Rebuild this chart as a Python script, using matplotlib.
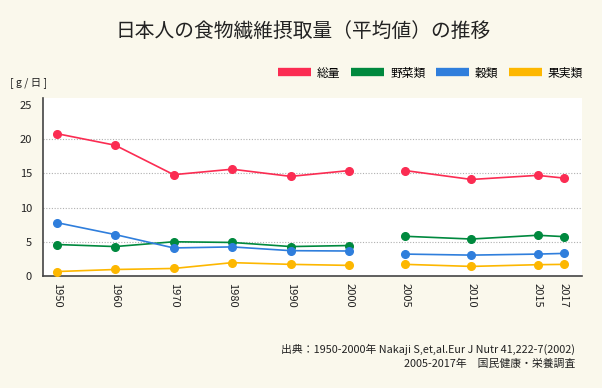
import numpy as np
import matplotlib
matplotlib.use("Agg")
import matplotlib.pyplot as plt
from matplotlib.lines import Line2D

plt.rcParams['font.family'] = ['Noto Sans CJK JP', 'DejaVu Sans']

# ---- data ----
years = [1950, 1960, 1970, 1980, 1990, 2000, 2005, 2010, 2015, 2017]
year_labels = ["1950", "1960", "1970", "1980", "1990", "2000", "2005", "2010", "2015", "2017"]
total = [20.8, 19.1, 14.8, 15.6, 14.55, 15.4, 15.4, 14.1, 14.7, 14.3]
vegetables = [4.6, 4.3, 5.0, 4.9, 4.3, 4.45, 5.8, 5.4, 5.95, 5.75]
grains = [7.8, 6.05, 4.1, 4.25, 3.7, 3.65, 3.2, 3.05, 3.2, 3.3]
fruits = [0.65, 0.95, 1.1, 1.95, 1.7, 1.55, 1.7, 1.4, 1.65, 1.7]
series_names = ["総量", "野菜類", "穀類", "果実類"]
yticks = [0, 5, 10, 15, 20, 25]

title = "日本人の食物繊維摂取量（平均値）の推移"
unit_label = "[ g / 日 ]"
source_line1 = "出典：1950-2000年 Nakaji S,et,al.Eur J Nutr 41,222-7(2002)"
source_line2 = "2005-2017年　国民健康・栄養調査"

colors = ["#FB2C52", "#00893E", "#2F7EDC", "#FDB700"]
bg = "#FAF8EC"

# piecewise axis scale (two data sources plotted with different spacing)
bp_year = np.array([2000.0, 2005.0])
bp_unit = np.array([5.0, 5.96])
slope_a = 0.1
slope_b = 0.226


def fwd(y):
    y = np.asarray(y, dtype=float)
    return np.where(y <= bp_year[0], (y - 1950) * slope_a,
                    np.where(y <= bp_year[1],
                             bp_unit[0] + (y - bp_year[0]) * (bp_unit[1] - bp_unit[0]) / (bp_year[1] - bp_year[0]),
                             bp_unit[1] + (y - bp_year[1]) * slope_b))


def inv(u):
    u = np.asarray(u, dtype=float)
    return np.where(u <= bp_unit[0], 1950 + u / slope_a,
                    np.where(u <= bp_unit[1],
                             bp_year[0] + (u - bp_unit[0]) * (bp_year[1] - bp_year[0]) / (bp_unit[1] - bp_unit[0]),
                             bp_year[1] + (u - bp_unit[1]) / slope_b))


fig = plt.figure(figsize=(6.02, 3.88), dpi=100, facecolor=bg)
ax = fig.add_axes([43 / 602, 1 - 276 / 388, (582 - 43) / 602, (276 - 98) / 388])
ax.set_facecolor("white")
ax.set_xscale("function", functions=(fwd, inv))

x = np.array(years)
split = years.index(2005)
for vals, c in zip([total, vegetables, grains, fruits], colors):
    v = np.array(vals)
    for sl in (slice(0, split), slice(split, None)):
        ax.plot(x[sl], v[sl], color=c, lw=1.2, marker="o", ms=5.5, mec=c, mfc=c, zorder=3)

ax.set_xlim(inv(-0.234).item(), inv(8.98).item())
ax.set_ylim(0, 26)
ax.set_yticks(yticks)
ax.set_xticks(years)
ax.set_xticklabels(year_labels, rotation=270, fontsize=8, color="#222222")
ax.tick_params(axis="x", length=0, pad=5)
ax.tick_params(axis="y", length=0, pad=8, labelsize=8, labelcolor="#222222")
ax.xaxis.set_minor_locator(matplotlib.ticker.NullLocator())

ax.grid(axis="y", color="#b0b0b0", linestyle=(0, (1, 1.5)), linewidth=0.8, zorder=0)
ax.set_axisbelow(True)
gl = ax.get_ygridlines()
gl[0].set_visible(False)
gl[-1].set_visible(False)

for s in ["top", "right"]:
    ax.spines[s].set_visible(False)
for s in ["left", "bottom"]:
    ax.spines[s].set_color("#444444")
    ax.spines[s].set_linewidth(1.2)

fig.text(0.503, 1 - 31 / 388, title, ha="center", va="center", fontsize=14.2, color="#222222")
fig.text(10 / 602, 1 - 83 / 388, unit_label, ha="left", va="center", fontsize=7.5, color="#222222")

handles = [Line2D([0], [0], color=c, lw=6, solid_capstyle="butt") for c in colors]
fig.legend(handles, series_names, loc="center right", bbox_to_anchor=(588 / 602, 1 - 73 / 388),
           ncol=4, frameon=False, fontsize=8.5, handlelength=2.8, handletextpad=0.5,
           columnspacing=0.9, borderaxespad=0)

fig.text(575 / 602, 1 - 349 / 388, source_line1, ha="right", va="center", fontsize=7.8, color="#222222")
fig.text(575 / 602, 1 - 364 / 388, source_line2, ha="right", va="center", fontsize=7.8, color="#222222")

fig.savefig("out.png", dpi=100, facecolor=bg)
